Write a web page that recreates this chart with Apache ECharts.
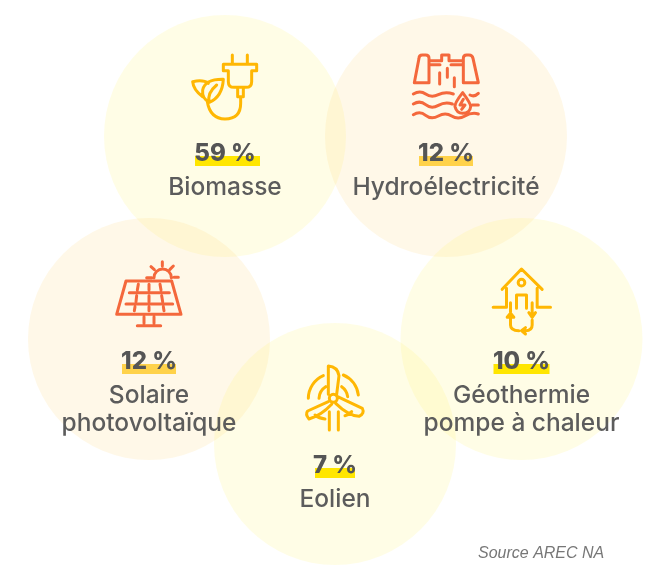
<!DOCTYPE html>
<html>
<head>
<meta charset="utf-8">
<title>Energies renouvelables</title>
<style>
html, body { margin: 0; padding: 0; background: #fff; }
#chart { width: 667px; height: 573px; }
</style>
<script src="https://cdn.jsdelivr.net/npm/echarts@6/dist/echarts.min.js"></script>
</head>
<body>
<div id="chart"></div>
<script>
// chiffres du graphique
var names = [['Biomasse'], ['Hydroélectricité'], ['Solaire', 'photovoltaïque'], ['Géothermie', 'pompe à chaleur'], ['Eolien']];
var shares = [59, 12, 12, 10, 7];

// placement des bulles, dans le repere de la page
var centerX = [225, 446, 149, 521.5, 335];
var centerY = [136, 136, 339, 339, 444];
var radius = 121;

var tints = ['rgba(255,240,100,0.2)', 'rgba(255,210,115,0.2)', 'rgba(255,210,115,0.2)', 'rgba(255,240,100,0.2)', 'rgba(255,240,100,0.2)'];
var iconColors = ['#ffb703', '#f4683c', '#f4683c', '#ffb703', '#ffb703'];
var markColors = ['#ffe600', '#ffd24a', '#ffd24a', '#ffe600', '#ffe600'];
var markWidths = [65, 54, 54, 56, 40];
var markDx = [2.5, 0, 0, 0, 0];
var pctDy = [17, 17, 22, 22, 21];

// pictos dessines a l'echelle 3x, [largeur, hauteur, decalage x, decalage y, trace]
var icons = [
    [330, 270, -55, -96, 'M187 45V72M232 45V72M160 73H260V92H245V125Q245 142 228 142H192Q175 142 175 125V92H160ZM203 142V170H220V142M212 172V190Q212 237 165 237Q120 235 112 185M157 118Q105 118 98 150Q95 175 118 187Q157 170 160 118ZM140 135Q110 160 118 187M98 170Q70 150 68 125Q100 118 115 130'],
    [330, 270, -51, -96, 'M58 128L72 55Q72 45 82 45H92Q102 45 102 55V128ZM205 128V55Q205 45 215 45H222Q232 45 234 55L250 128ZM102 62H140V45H162V62H205M103 74H135M168 74H203M134 98V132M157 85V112M178 113V140M55 162Q75 150 92 162T130 164T175 162M225 165Q238 172 250 160M55 192Q75 180 92 194T130 196T172 192M232 195H250M55 224Q75 212 92 226T130 228T170 228T210 228T250 222M203 158Q178 190 180 200Q185 220 203 220Q225 220 227 200Q227 190 203 158ZM205 178L195 195H210L200 208'],
    [300, 240, -49, -84, 'M78 78H215L243 178H50ZM88 113H208M78 147H218M115 88L112 105M147 88V105M180 88L183 105M110 122L108 140M147 122V140M185 122L188 140M105 155L103 167M147 155V167M190 155L192 167M132 185V205M162 185V205M112 212H182M162 68A26 26 0 0 1 214 68M187 20V33M153 35L163 44M220 33L210 43M140 68H155M222 67H235'],
    [255, 255, -41, -79, 'M65 88L123 27L185 88M78 85V142H38M170 85V142H210M113 68a10 10 0 1 0 20 0a10 10 0 1 0 -20 0M108 145V105H138V145M90 128V155M155 128V170M145 158L155 172L165 158M155 180V195Q155 212 135 212M135 203L123 212L135 222M115 212Q90 212 90 195V170M80 172L90 160L100 172Z'],
    [255, 255, -40, -89, 'M103 130a12 12 0 1 0 24 0a12 12 0 1 0 -24 0M100 118V33Q128 35 132 62L125 118M100 140L38 168Q30 178 42 192Q78 182 110 148M128 125L202 160Q210 175 192 184Q160 182 122 145M40 130A75 75 0 0 1 85 62M145 60A75 75 0 0 1 190 120M60 180Q72 190 90 192M150 182Q160 180 170 170M72 130A43 43 0 0 1 92 95M140 95A43 43 0 0 1 158 125M103 170V225M130 170V225']
];

var chart = echarts.init(document.getElementById('chart'));

function renderLabel(params, api) {
    var i = params.dataIndex;
    var pos = api.coord([centerX[i], centerY[i]]);
    var ic = icons[i];
    var lines = names[i];
    var children = [{
        type: 'path',
        x: pos[0] + ic[2],
        y: pos[1] + ic[3],
        scaleX: 1 / 3,
        scaleY: 1 / 3,
        shape: { pathData: 'M0 0M' + ic[0] + ' ' + ic[1] + ' ' + ic[4], x: 0, y: 0, width: ic[0], height: ic[1] },
        style: { fill: null, stroke: iconColors[i], lineWidth: 9, lineCap: 'round', lineJoin: 'round' }
    }, {
        type: 'rect',
        shape: { x: pos[0] + markDx[i] - markWidths[i] / 2, y: pos[1] + pctDy[i] + 3, width: markWidths[i], height: 10 },
        style: { fill: markColors[i] }
    }, {
        type: 'text',
        x: pos[0],
        y: pos[1] + pctDy[i] + 1,
        style: {
            text: shares[i] + ' %',
            fill: '#555555',
            font: '800 24px Inter',
            align: 'center',
            verticalAlign: 'middle'
        }
    }];
    lines.forEach(function (line, k) {
        children.push({
            type: 'text',
            x: pos[0],
            y: pos[1] + pctDy[i] + 35 + k * 28,
            style: {
                text: line,
                fill: '#5c5c5c',
                font: '500 24.5px Inter',
                align: 'center',
                verticalAlign: 'middle'
            }
        });
    });
    return { type: 'group', children: children };
}

var points = centerX.map(function (x, i) {
    return { value: [x, centerY[i]], itemStyle: { color: tints[i] } };
});

var option = {
    animation: false,
    backgroundColor: '#ffffff',
    title: {
        text: 'Source AREC NA',
        left: 473,
        top: 541,
        textStyle: { fontFamily: 'Liberation Sans', fontStyle: 'italic', fontWeight: 'normal', fontSize: 16, color: '#777777' }
    },
    grid: { left: 0, right: 0, top: 0, bottom: 0 },
    xAxis: { type: 'value', min: 0, max: 667, show: false },
    yAxis: { type: 'value', min: 0, max: 573, inverse: true, show: false },
    series: [
        { type: 'scatter', symbol: 'circle', symbolSize: radius * 2, data: points, silent: true, z: 1 },
        { type: 'custom', renderItem: renderLabel, data: points.map(function (p) { return p.value; }), silent: true, z: 5 }
    ]
};
chart.setOption(option);
</script>
</body>
</html>
